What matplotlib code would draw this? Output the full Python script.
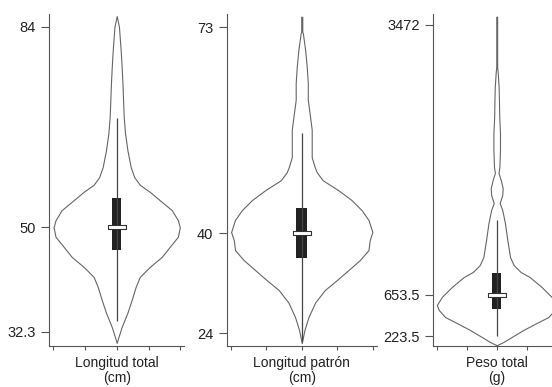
import numpy as np
import matplotlib
matplotlib.use("Agg")
import matplotlib.pyplot as plt
from matplotlib.path import Path

plt.rcParams['font.family'] = ['Liberation Sans', 'DejaVu Sans']

# --- data ---
labels = ["Longitud total\n(cm)", "Longitud patrón\n(cm)", "Peso total\n(g)"]
ytick_vals = [[32.3, 50, 84], [24, 40, 73], [223.5, 653.5, 3472]]
ytick_text = [["32.3", "50", "84"], ["24", "40", "73"], ["223.5", "653.5", "3472"]]

# violin outlines: value and half width
lt_vals = [85.8, 84.0, 80.0, 77.2, 74.5, 71.6, 68.7, 66.0, 63.1, 60.2, 58.5, 57.2,
           56.0, 54.6, 52.9, 51.2, 50.0, 48.4, 46.7, 45.0, 43.3, 41.6, 39.9, 37.7,
           35.5, 33.1, 31.4, 30.4]
lt_half = [0, .014, .025, .031, .036, .040, .044, .052, .067, .088, .110, .145,
           .208, .270, .346, .384, .396, .384, .333, .283, .208, .145, .119, .094,
           .067, .031, .011, 0]

lp_vals = [74.7, 72.3, 72.1, 69.4, 66.7, 64.1, 61.4, 58.6, 56.6, 54.5, 52.2, 50.6,
           49.8, 48.5, 46.9, 45.3, 43.7, 42.1, 40.2, 38.9, 37.3, 35.7, 34.1, 32.5,
           30.9, 28.9, 26.6, 24.5, 22.4]
lp_half = [.003, .003, .006, .019, .028, .034, .034, .047, .056, .056, .056, .073,
           .084, .118, .206, .281, .337, .376, .397, .382, .375, .326, .262, .197,
           .129, .075, .038, .015, 0]

pt_vals = [3553, 3032, 2967, 2821, 2685, 2508, 2341, 2164, 1987, 1925, 1852, 1768,
           1695, 1612, 1539, 1404, 1227, 1050, 966, 893, 841, 737, 633, 549, 497,
           424, 362, 289, 216, 164, 130]
pt_half = [.003, .003, .007, .013, .015, .017, .022, .022, .018, .012, .027, .040,
           .037, .020, .037, .055, .071, .089, .113, .160, .220, .300, .367, .400,
           .387, .345, .267, .178, .100, .045, 0]

# box stats: lower whisker, q1, median, q3, upper whisker
lt_box = [34.1, 46.1, 50, 55.0, 68.5]
lp_box = [22.8, 36.0, 40, 44.0, 56.0]
pt_box = [223.5, 504, 653.5, 880, 1435]

violins = [(lt_vals, lt_half), (lp_vals, lp_half), (pt_vals, pt_half)]
boxes = [lt_box, lp_box, pt_box]
ylims = [(29.93, 86.15), (21.99, 75.14), (125.2, 3581.5)]

# axes layout in pixels (left, right)
W, H = 552, 387
px_lr = [(49.3, 184.1), (226.5, 377.0), (433.4, 560.0)]
px_top, px_bot = 14, 345.7

fig = plt.figure(figsize=(W / 100, H / 100), dpi=100)

med_marker = Path([(-1, -0.2), (1, -0.2), (1, 0.2), (-1, 0.2), (-1, -0.2)])
line_col = '#555555'

for i in range(3):
    l, r = px_lr[i]
    ax = fig.add_axes([l / W, 1 - px_bot / H, (r - l) / W, (px_bot - px_top) / H])
    vals, half = violins[i]
    vals = np.array(vals)
    half = np.array(half)
    ax.fill_betweenx(vals, 1 - half, 1 + half, facecolor='white',
                     edgecolor='#666666', linewidth=0.8)
    lo, q1, med, q3, hi = boxes[i]
    ax.vlines(1, lo, hi, color='#444444', linewidth=0.9)
    ax.fill_betweenx([q1, q3], 1 - 0.03, 1 + 0.03, color='#222222', linewidth=0)
    ax.plot([1], [med], marker=med_marker, markersize=13, markerfacecolor='white',
            markeredgecolor='#333333', markeredgewidth=0.8, linestyle='none')

    ax.set_xlim(0.577, 1.423)
    ax.set_ylim(*ylims[i])
    ax.set_xticks([0.6, 0.8, 1.0, 1.2, 1.4])
    ax.set_xticklabels([])
    ax.set_yticks(ytick_vals[i])
    ax.set_yticklabels(ytick_text[i])
    ax.tick_params(axis='y', length=5.5, width=0.8, pad=4, labelsize=10.5,
                   colors=line_col, labelcolor='#222222')
    ax.tick_params(axis='x', length=3, width=0.8, colors=line_col)
    for s in ['top', 'right']:
        ax.spines[s].set_visible(False)
    for s in ['left', 'bottom']:
        ax.spines[s].set_color(line_col)
        ax.spines[s].set_linewidth(0.8)
    ax.set_xlabel(labels[i], fontsize=10, color='#222222', labelpad=1,
                  linespacing=1.1)

fig.savefig('out.png', dpi=100)
